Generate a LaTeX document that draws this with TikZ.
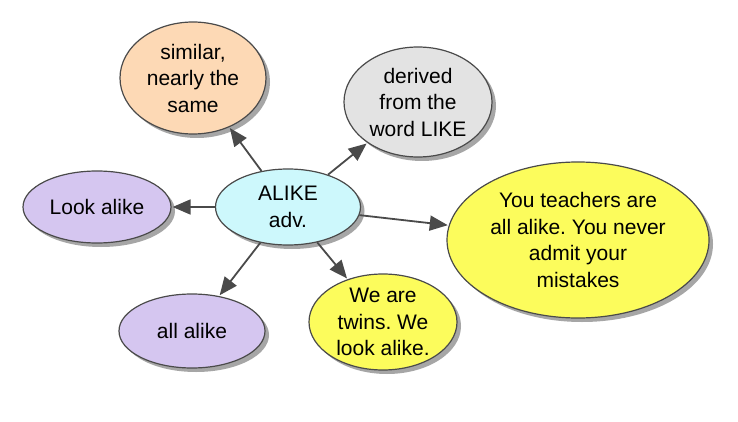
\documentclass[tikz,border=0pt]{standalone}
\usepackage{fontspec}
\setmainfont{Liberation Sans}
\usepackage{xcolor}
\usetikzlibrary{arrows.meta, shapes.geometric, shadows}
\frenchspacing

\definecolor{peach}{HTML}{FDD9B5}
\definecolor{lightgrey}{HTML}{E3E3E3}
\definecolor{lavender}{HTML}{D5C6F0}
\definecolor{paleblue}{HTML}{CDF8FC}
\definecolor{lemon}{HTML}{FCFC5C}
\definecolor{rimgrey}{HTML}{4A4A4A}

\begin{document}
\begin{tikzpicture}[x=1pt, y=-1pt,
  every node/.style={font=\fontsize{21}{26.5}\selectfont, align=center},
  bubble/.style={ellipse, draw=rimgrey, line width=1.2pt, inner sep=0pt,
    drop shadow={shadow xshift=4pt, shadow yshift=-4pt, fill=gray!70, opacity=1}},
  link/.style={draw=rimgrey, line width=1.8pt,
    -{Triangle[length=18pt, width=15pt]}, shorten >=1pt}]
\useasboundingbox (0,0) rectangle (738,422);
\fill[white] (0,0) rectangle (738,422);

% ============= hub =============
\node[bubble, fill=paleblue, minimum width=145pt, minimum height=76pt]
  (alike) at (288,207) {ALIKE\\adv.};

% ============= satellites =============
\node[bubble, fill=peach, minimum width=146pt, minimum height=112pt]
  (similar) at (193,78) {similar,\\nearly the\\same};
\node[bubble, fill=lightgrey, minimum width=148pt, minimum height=110pt]
  (derived) at (418,102) {derived\\from the\\word LIKE};
\node[bubble, fill=lavender, minimum width=148pt, minimum height=72pt]
  (lookalike) at (97,207) {Look alike};
\node[bubble, fill=lemon, minimum width=262pt, minimum height=156pt]
  (teachers) at (578,240) {You teachers are\\all alike. You never\\admit your\\mistakes};
\node[bubble, fill=lavender, minimum width=146pt, minimum height=74pt]
  (allalike) at (192,331) {all alike};
\node[bubble, fill=lemon, minimum width=148pt, minimum height=96pt]
  (twins) at (383,322) {We are\\twins. We\\look alike.};

% ============= links from the hub =============
\draw[link] (alike) -- (similar);
\draw[link] (alike) -- (derived);
\draw[link] (alike) -- (lookalike);
\draw[link] (alike) -- (teachers);
\draw[link] (alike) -- (allalike);
\draw[link] (alike) -- (twins);
\end{tikzpicture}
\end{document}
